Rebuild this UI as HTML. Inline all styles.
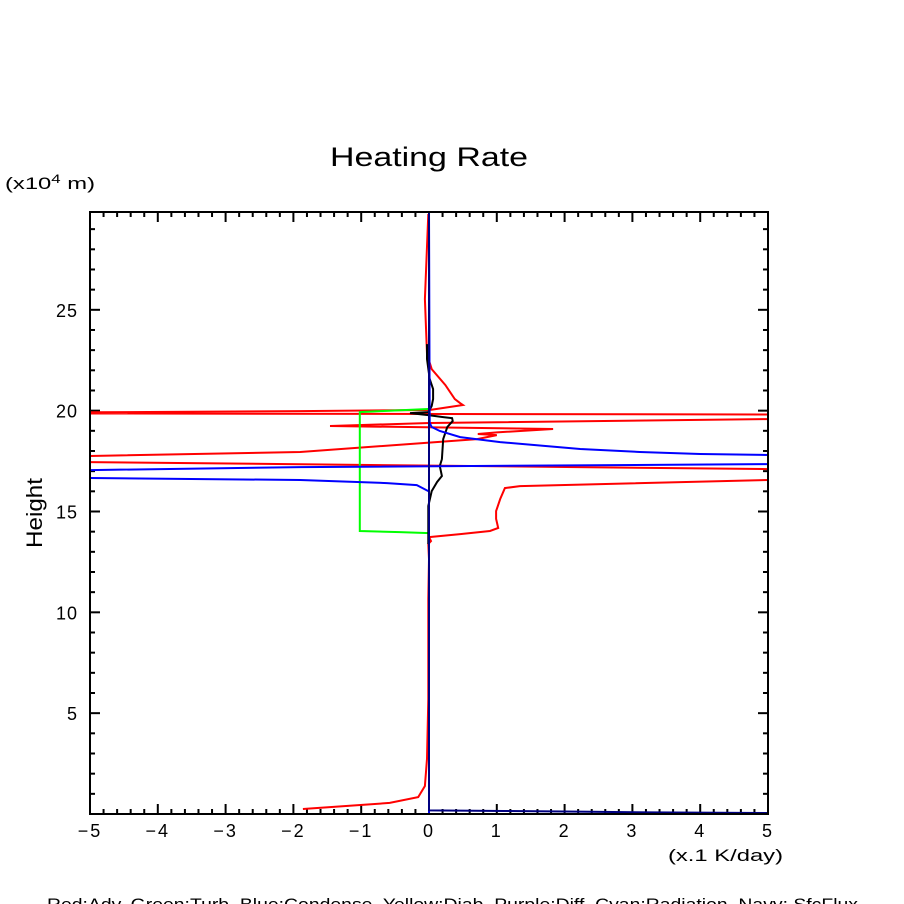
<!DOCTYPE html>
<html><head><meta charset="utf-8"><style>
html,body{margin:0;padding:0;background:#fff;}
svg{display:block;font-family:"Liberation Sans",sans-serif;}
</style></head><body>
<svg id="chart" width="904" height="904" viewBox="0 0 904 904">
<defs><clipPath id="plotclip"><rect x="90" y="212" width="678" height="602"/></clipPath></defs>
<text x="330" y="166" font-size="27" fill="#000" textLength="198" lengthAdjust="spacingAndGlyphs">Heating Rate</text>
<text x="5" y="189" font-size="17" fill="#000" textLength="90" lengthAdjust="spacingAndGlyphs">(x10<tspan font-size="12" dy="-6">4</tspan><tspan dy="6"> m)</tspan></text>
<text x="42" y="513" font-size="22" fill="#000" text-anchor="middle" textLength="70" lengthAdjust="spacingAndGlyphs" transform="rotate(-90 42 513)">Height</text>
<text x="668" y="861" font-size="17" fill="#000" textLength="115" lengthAdjust="spacingAndGlyphs">(x.1 K/day)</text>
<text x="47" y="910" font-size="17" fill="#000" textLength="811" lengthAdjust="spacingAndGlyphs">Red:Adv.  Green:Turb.  Blue:Condense.  Yellow:Diab.  Purple:Diff.  Cyan:Radiation.  Navy: SfcFlux</text>
<g id="ticks"></g>
<g id="series" clip-path="url(#plotclip)"></g>
<rect x="90" y="212" width="678" height="602" fill="none" stroke="#000" stroke-width="2"/>
</svg>
<script>
const xTicks = [-5,-4,-3,-2,-1,0,1,2,3,4,5];
const yTicks = [5,10,15,20,25];
const advX = [-1.86,-0.58,-0.16,-0.06,-0.03,-0.01,-0.01,0,-0.01,0.03,0,0.46,0.90,1.02,0.99,0.99,1.05,1.12,1.34,5.0,8,5.0,-5,-8,-5,-1.90,0.71,1.0,0.72,1.0,1.83,-1.46,0.01,5,8,5,-5,-8,-5,-1.90,0.01,0.50,0.46,0.38,0.24,0.04,-0.03,-0.06,-0.01];
const advH = [0.25,0.55,0.84,1.39,2.73,5.70,10.66,12.64,13.39,13.53,13.73,13.88,14.03,14.18,14.63,15.02,15.62,16.16,16.26,16.56,16.8,17.10,17.45,17.6,17.75,17.95,18.59,18.79,18.84,18.92,19.09,19.24,19.39,19.58,19.7,19.81,19.86,19.9,19.92,19.98,20.03,20.28,20.37,20.58,21.27,22.06,22.81,25.53,29.75];
const turbX = [0,-0.43,-1.02,-1.02,-0.72,-0.01];
const turbH = [13.93,13.98,14.03,19.93,19.98,20.08];
const diabX = [-0.01,-0.01,0.04,0.12,0.19,0.16,0.19,0.21,0.27,0.35,0.34,0.21,-0.01,-0.28,-0.01,0.04,0.06,0.06,0.01,-0.03,-0.03];
const diabH = [13.39,15.27,16.01,16.46,16.76,17.25,17.60,18.59,19.19,19.48,19.63,19.68,19.78,19.88,19.93,20.23,20.58,21.07,21.57,22.56,23.3];
const condX = [0,0,-0.01,-0.18,-0.62,-1.90,-5,-8,-5,-1.90,5,8,5,4.0,3.11,2.23,1.05,0.46,0.16,0.04,0.01,0];
const condH = [0,16.0,16.01,16.31,16.41,16.56,16.66,16.9,17.05,17.20,17.35,17.6,17.80,17.85,17.95,18.10,18.44,18.69,18.99,19.19,19.39,29.9];
const sfcX = [0,0,1.1,2.2,3.3,5];
const sfcH = [29.9,0.18,0.15,0.12,0.08,0.05];
const X0=-5,X1=5,H0=0,H1=29.85;
function sx(v){return 90+(v-X0)/(X1-X0)*678;}
function sy(h){return 814-(h-H0)/(H1-H0)*602;}
const NS='http://www.w3.org/2000/svg';
const tg=document.getElementById('ticks');
const sg=document.getElementById('series');
function ln(x1,y1,x2,y2){const l=document.createElementNS(NS,'line');l.setAttribute('x1',x1);l.setAttribute('y1',y1);l.setAttribute('x2',x2);l.setAttribute('y2',y2);l.setAttribute('stroke','#000');l.setAttribute('stroke-width','2');tg.appendChild(l);return l;}
for(let i=0;i<=50;i++){const v=X0+i*0.2;const x=sx(v);const major=(i%5===0);const len=major?10:5;
 const a=ln(x,814,x,814-len);
 
 
 const b=ln(x,212,x,212+len);
 
 }
for(let h=1;h<=29;h++){const y=sy(h);const major=(h%5===0);const len=major?10:5;
 const a=ln(90,y,90+len,y);
 
 
 const b=ln(768,y,768-len,y);
 
 }
xTicks.forEach(v=>{const t=document.createElementNS(NS,'text');t.setAttribute('x',sx(v));t.setAttribute('y',837);t.setAttribute('text-anchor','middle');t.setAttribute('font-size','18');t.setAttribute('letter-spacing','2');t.textContent=(v<0?'\u2212'+(-v):String(v));
 
 
 tg.appendChild(t);});
yTicks.forEach(v=>{const t=document.createElementNS(NS,'text');t.setAttribute('x',78);t.setAttribute('y',sy(v)+7);t.setAttribute('text-anchor','end');t.setAttribute('font-size','18');t.setAttribute('letter-spacing','1');t.textContent=String(v);
 
 
 tg.appendChild(t);});
function series(xs,hs,color,name){const p=document.createElementNS(NS,'polyline');
 p.setAttribute('points',xs.map((v,i)=>sx(v).toFixed(1)+','+sy(hs[i]).toFixed(1)).join(' '));
 p.setAttribute('fill','none');p.setAttribute('stroke',color);p.setAttribute('stroke-width','2');
 
 
 sg.appendChild(p);}
series(advX,advH,'#ff0000','adv-line');
series(turbX,turbH,'#00ff00','turb-line');
series(diabX,diabH,'#000000','diab-line');
series(condX,condH,'#0000ff','condense-line');
series(sfcX,sfcH,'#000080','sfcflux-line');
</script>
</body></html>
